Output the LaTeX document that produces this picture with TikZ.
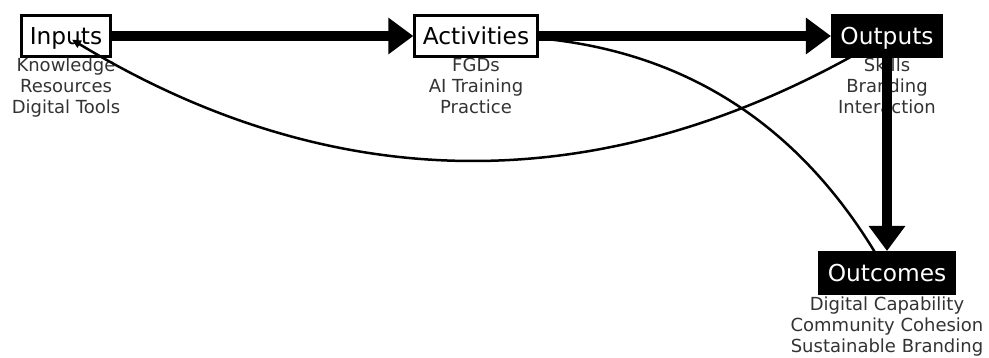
\documentclass[tikz,border=0pt]{standalone}
\usepackage{fontspec}
\setmainfont{DejaVu Sans}
\usetikzlibrary{arrows.meta}
\pgfdeclarelayer{front}
\pgfsetlayers{main,front}
\begin{document}
\begin{tikzpicture}[x=1pt,y=-1pt,
  box/.style={draw=black, line width=3pt, fill=white, inner xsep=8pt, inner ysep=0pt,
    minimum height=41pt, text height=17pt, text depth=0pt,
    font=\fontsize{23.3}{28}\selectfont},
  darkbox/.style={box, fill=black, text=white},
  lab/.style={anchor=north, align=center, inner sep=0pt, text=black!80,
    font=\fontsize{18}{21}\selectfont},
  thickarrow/.style={line width=10pt, -{Triangle[length=25pt,width=35pt]}},
  thinline/.style={line width=2.5pt},
  smallhead/.style={-{Triangle[length=9pt,width=8pt]}},
]
\useasboundingbox (0,0) rectangle (989,358);

\begin{pgfonlayer}{front}
  \node[box] (activities) at (476,36) {Activities};
  \node[darkbox] (outputs) at (887,36) {Outputs};
  \node[darkbox] (outcomes) at (887,273) {Outcomes};
\end{pgfonlayer}

\node[box] (inputs) at (66,36) {Inputs};

\node[lab] (inlab) at (66,57.5) {Knowledge\\Resources\\Digital Tools};
\node[lab] (actlab) at (476,57.5) {FGDs\\AI Training\\Practice};
\node[lab] (outlab) at (887,57.5) {Skills\\Branding\\Interaction};
\node[lab] (ocmlab) at (887,297) {Digital Capability\\Community Cohesion\\Sustainable Branding};

\draw[thickarrow] (outputs.south) -- (outcomes.north);

\draw[thinline, preaction={draw=white, line width=6.5pt}]
  (activities.center) .. controls (660.4,32.8) and (797.4,111.8) .. (outcomes.center);

\draw[thickarrow] (inputs.east) -- (activities.west);
\draw[thickarrow] (activities.east) -- (outputs.west);

\draw[thinline, smallhead, shorten >=7pt]
  (outputs.center) .. controls (613,201.3) and (339.3,201.3) .. (inputs.center);
\end{tikzpicture}
\end{document}
